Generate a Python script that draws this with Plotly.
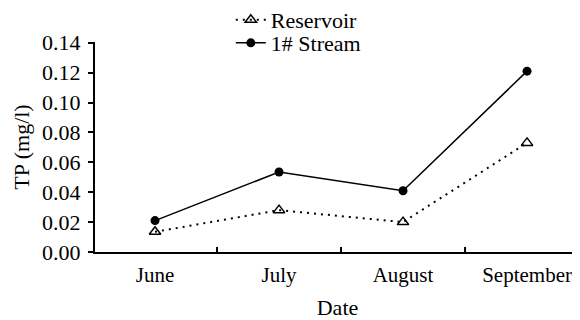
import plotly.graph_objects as go

months = ["June", "July", "August", "September"]
reservoir = [0.0135, 0.028, 0.020, 0.073]
stream = [0.021, 0.0535, 0.041, 0.121]
y_ticks = [0.00, 0.02, 0.04, 0.06, 0.08, 0.10, 0.12, 0.14]

font = "Liberation Serif, Times New Roman, serif"
fs = 22

fig = go.Figure()
fig.add_trace(go.Scatter(
    x=months, y=reservoir, name="Reservoir", mode="lines+markers", legend="legend",
    line=dict(color="black", width=2, dash="2px,5px"),
    marker=dict(symbol="triangle-up-open", size=10, color="black", line=dict(width=1.5)),
))
fig.add_trace(go.Scatter(
    x=months, y=stream, name="1# Stream", mode="lines+markers", legend="legend2",
    line=dict(color="black", width=1.5),
    marker=dict(symbol="circle", size=9, color="black"),
))

leg_common = dict(xanchor="left", yanchor="middle", bgcolor="rgba(0,0,0,0)",
                  font=dict(family=font, size=fs, color="black"))

fig.update_layout(
    width=572, height=312,
    margin=dict(l=87, r=0, t=34, b=68, autoexpand=False),
    plot_bgcolor="white", paper_bgcolor="white",
    font=dict(family=font, size=fs, color="black"),
    showlegend=True,
    legend=dict(x=0.28, y=1.105, **leg_common),
    legend2=dict(x=0.28, y=0.995, **leg_common),
    xaxis=dict(
        range=[-0.484, 3.427], showline=True, linecolor="black", linewidth=2,
        ticks="", showgrid=False, zeroline=False, automargin=False,
        ticklabelstandoff=3,
        title=dict(text="Date", font=dict(family=font, size=fs), standoff=15),
        tickfont=dict(family=font, size=21, color="black"),
    ),
    yaxis=dict(
        range=[0, 0.1405], tickvals=y_ticks, tickformat=".2f",
        showline=True, linecolor="black", linewidth=2, automargin=False,
        ticks="outside", ticklen=5, tickwidth=2, tickcolor="black",
        showgrid=False, zeroline=False, ticklabelstandoff=3,
        title=dict(text="TP (mg/l)", font=dict(family=font, size=fs), standoff=6),
        tickfont=dict(family=font, size=fs, color="black"),
    ),
)

# boundary ticks between categories on x axis (pointing up)
for b in [0.5, 1.5, 2.5]:
    fig.add_shape(type="line", xref="x", yref="paper", x0=b, x1=b, y0=0, y1=0.024,
                  line=dict(color="black", width=2))

fig.write_html("out.html")
